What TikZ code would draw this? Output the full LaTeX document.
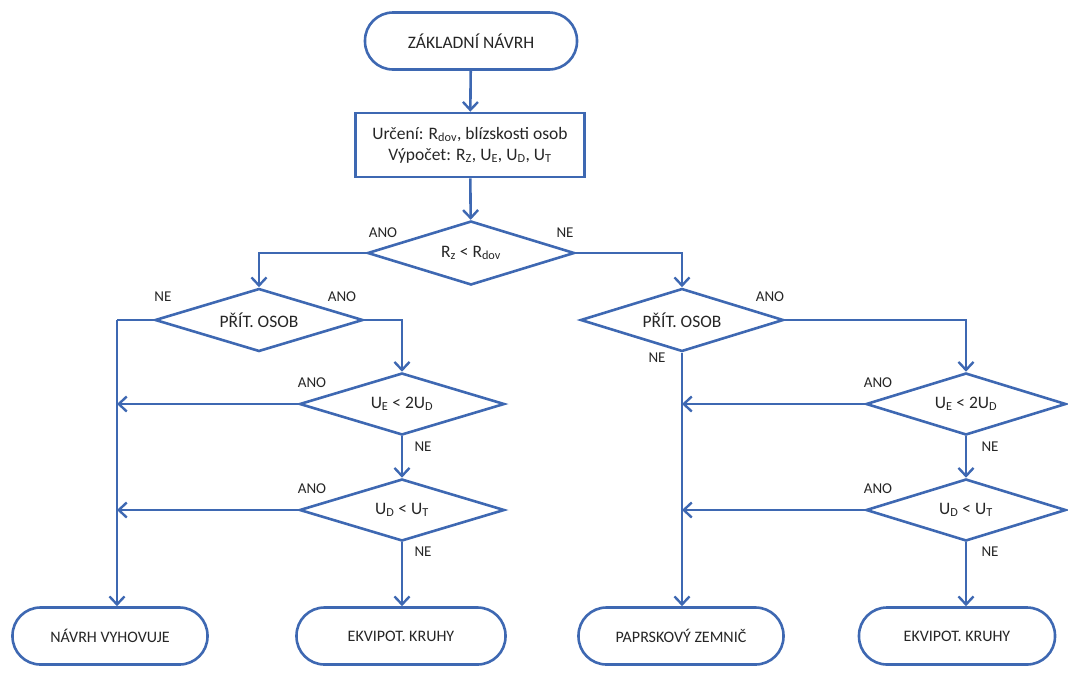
\documentclass[tikz,border=0pt]{standalone}
\usepackage{fontspec}
\setmainfont{Carlito}
\usetikzlibrary{shapes.geometric,arrows.meta}
\definecolor{fcblue}{RGB}{62,104,178}
\tikzset{
  every node/.style={font=\fontsize{17.5}{21}\selectfont, text=black!85},
  term/.style={draw=fcblue, line width=2.6pt, rounded corners=28pt, minimum height=57pt, inner sep=0pt, fill=white},
  endterm/.style={term, font=\fontsize{16}{19}\selectfont},
  procbox/.style={draw=fcblue, line width=2.6pt, rectangle, minimum width=229pt, minimum height=64pt, inner sep=0pt, align=center},
  decis/.style={draw=fcblue, line width=2.6pt, diamond, minimum width=206pt, minimum height=63pt, inner sep=0pt},
  dtext/.style={inner sep=0pt},
  conn/.style={draw=fcblue, line width=2.6pt},
  arr/.style={conn, -{Straight Barb[length=8pt,width=15pt,line width=2.4pt]}},
  lbl/.style={font=\fontsize{15}{18}\selectfont, inner sep=0pt},
}
\newcommand{\sbs}[1]{\textsubscript{#1}}
\begin{document}
\begin{tikzpicture}[x=1pt,y=-1pt]
\useasboundingbox (0,0) rectangle (1068,673);
% nodes
\node[term, minimum width=212pt] (t0) at (471,41) {ZÁKLADNÍ NÁVRH};
\node[procbox] (b1) at (470,145) {Určení: R\sbs{dov}, blízskosti osob\\Výpočet: R\sbs{Z}, U\sbs{E}, U\sbs{D}, U\sbs{T}};
\node[decis, minimum width=207pt, minimum height=64pt] (d1) at (471,253) {};
\node[decis, minimum width=208pt] (d2) at (259,320) {};
\node[decis, minimum width=205pt, minimum height=62pt] (d3) at (402,404) {};
\node[decis, minimum width=205pt, minimum height=62pt] (d4) at (402,510) {};
\node[decis, minimum width=203pt] (d5) at (682,320) {};
\node[decis, minimum width=200pt, minimum height=62pt] (d6) at (966,404) {};
\node[decis, minimum width=200pt, minimum height=62pt] (d7) at (966,510) {};
\node[dtext] (d1t) at (d1) {R\sbs{z} < R\sbs{dov}};
\node[dtext] (d2t) at (d2) {PŘÍT. OSOB};
\node[dtext] (d3t) at (d3) {U\sbs{E} < 2U\sbs{D}};
\node[dtext] (d4t) at (d4) {U\sbs{D} < U\sbs{T}};
\node[dtext] (d5t) at (d5) {PŘÍT. OSOB};
\node[dtext] (d6t) at (d6) {U\sbs{E} < 2U\sbs{D}};
\node[dtext] (d7t) at (d7) {U\sbs{D} < U\sbs{T}};
\node[endterm, minimum width=195pt] (e1) at (110,636) {NÁVRH VYHOVUJE};
\node[endterm, minimum width=209pt] (e2) at (401,636) {EKVIPOT. KRUHY};
\node[endterm, minimum width=205pt] (e3) at (681,636) {PAPRSKOVÝ ZEMNIČ};
\node[endterm, minimum width=196pt] (e4) at (957,636) {EKVIPOT. KRUHY};
\coordinate (cL) at (117,320);
% connectors
\draw[arr] (t0) -- (b1);
\draw[arr] (b1) -- (d1);
\draw[arr] (d1.west) -| (d2.north);
\draw[arr] (d1.east) -| (d5.north);
\draw[conn] (d2.west) -- (cL);
\draw[arr] (cL) -- (cL |- e1.north);
\draw[arr] (d2.east) -| (d3.north);
\draw[arr] (d3.west) -- (cL |- d3.west);
\draw[arr] (d3.south) -- (d4.north);
\draw[arr] (d4.west) -- (cL |- d4.west);
\draw[arr] (d4.south) -- (d4.south |- e2.north);
\draw[arr] (d5.south) -- (d5.south |- e3.north);
\draw[arr] (d5.east) -| (d6.north);
\draw[arr] (d6.west) -- (d5.south |- d6.west);
\draw[arr] (d6.south) -- (d7.north);
\draw[arr] (d7.west) -- (d5.south |- d7.west);
\draw[arr] (d7.south) -- (d7.south |- e4.north);
% labels
\node[lbl] (l1) at (383,233) {ANO};
\node[lbl] (l2) at (565,233) {NE};
\node[lbl] (l3) at (163,297) {NE};
\node[lbl] (l4) at (342,297) {ANO};
\node[lbl] (l5) at (770,297) {ANO};
\node[lbl] (l6) at (657,358) {NE};
\node[lbl] (l7) at (312,383) {ANO};
\node[lbl] (l8) at (423,447) {NE};
\node[lbl] (l9) at (312,489) {ANO};
\node[lbl] (l10) at (423,552) {NE};
\node[lbl] (l11) at (878,383) {ANO};
\node[lbl] (l12) at (990,447) {NE};
\node[lbl] (l13) at (878,489) {ANO};
\node[lbl] (l14) at (990,552) {NE};
\end{tikzpicture}
\end{document}
